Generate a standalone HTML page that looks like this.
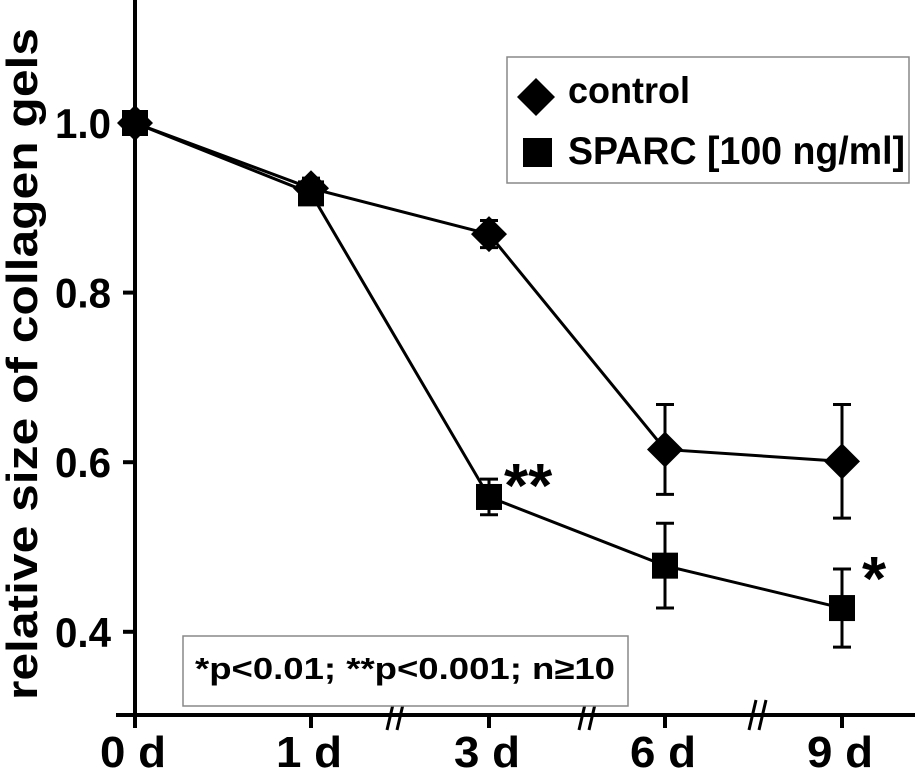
<!DOCTYPE html>
<html><head><meta charset="utf-8"><style>
body{margin:0;background:#fff}
svg{display:block;font-family:"Liberation Sans",Arial,sans-serif;font-weight:bold}
</style></head><body>
<svg width="915" height="773" viewBox="0 0 915 773">
<g id="plot"></g>
<rect x="507" y="57" width="402" height="126" fill="#fff" stroke="#888" stroke-width="1.5"/>
<path d="M517,97 l19,-19 l19,19 l-19,19 z" fill="#000"/>
<text x="568" y="103" font-size="37" textLength="122" lengthAdjust="spacingAndGlyphs">control</text>
<rect x="523" y="138" width="29" height="29" fill="#000"/>
<text x="568" y="164" font-size="39" textLength="337" lengthAdjust="spacingAndGlyphs">SPARC [100 ng/ml]</text>
<rect x="183" y="636" width="445" height="70" fill="#fff" stroke="#888" stroke-width="1.5"/>
<text x="195" y="679" font-size="31" textLength="420" lengthAdjust="spacingAndGlyphs">*p&lt;0.01; **p&lt;0.001; n≥10</text>
<text transform="translate(37,700) rotate(-90)" font-size="44" textLength="672" lengthAdjust="spacingAndGlyphs">relative size of collagen gels</text>
</svg>
<script>
const categories=["0 d","1 d","3 d","6 d","9 d"];
const controlVals=[1.0,0.923,0.869,0.615,0.601];
const controlErr=[0,0.012,0.016,0.053,0.067];
const sparcVals=[1.0,0.917,0.559,0.478,0.428];
const sparcErr=[0,0,0.021,0.05,0.046];
const yTicks=[0.4,0.6,0.8,1.0];
const yTickLabels=["0.4","0.6","0.8","1.0"];
const catX=[135,311,489,665,842];
const NS="http://www.w3.org/2000/svg";
const g=document.getElementById('plot');
function y(v){return 123+(1-v)*848;}
function x(i){return catX[i];}
function mk(t,a){const e=document.createElementNS(NS,t);for(const k in a)e.setAttribute(k,a[k]);g.appendChild(e);return e;}
let e;
e=mk('line',{x1:135,y1:0,x2:135,y2:717,stroke:'#000','stroke-width':4});


e=mk('line',{x1:116,y1:715,x2:915,y2:715,stroke:'#000','stroke-width':4});


yTicks.forEach((v,i)=>{
 e=mk('line',{x1:123,y1:y(v),x2:135,y2:y(v),stroke:'#000','stroke-width':4});
 
 
 e=mk('text',{x:55,y:y(v)+15,'font-size':42,textLength:56,lengthAdjust:'spacingAndGlyphs'});e.textContent=yTickLabels[i];
 
 
});
categories.forEach((c,i)=>{
 e=mk('line',{x1:x(i),y1:715,x2:x(i),y2:728,stroke:'#000','stroke-width':4});
 
 
 e=mk('text',{x:x(i)-35,y:767,'font-size':44,textLength:66,lengthAdjust:'spacingAndGlyphs'});e.textContent=c;
 
 
});
[395,587,757].forEach(bx=>{
 e=mk('path',{d:`M${bx-8},${730} L${bx-1},${700} M${bx+2},${730} L${bx+9},${700}`,stroke:'#000','stroke-width':3,fill:'none'});
 
 
});
function series(vals,err,name,shape){
 e=mk('polyline',{points:vals.map((v,i)=>x(i)+','+y(v)).join(' '),fill:'none',stroke:'#000','stroke-width':3});
 
 
 vals.forEach((v,i)=>{
  if(err[i]>0){
   const t=y(v+err[i]),b=y(v-err[i]);
   e=mk('path',{d:`M${x(i)},${t} V${b} M${x(i)-9},${t} h18 M${x(i)-9},${b} h18`,stroke:'#000','stroke-width':3,fill:'none'});
   
   
  }
  if(shape==='d') e=mk('path',{d:`M${x(i)-18},${y(v)} l18,-18 l18,18 l-18,18 z`,fill:'#000'});
  else e=mk('rect',{x:x(i)-13,y:y(v)-13,width:26,height:26,fill:'#000'});
  
  
 });
}
series(controlVals,controlErr,'control','d');
series(sparcVals,sparcErr,'sparc','s');
e=mk('text',{x:504,y:y(sparcVals[2])+10,'font-size':62});e.textContent='**';


e=mk('text',{x:862,y:y(sparcVals[4])-8,'font-size':62});e.textContent='*';


</script>
</body></html>
